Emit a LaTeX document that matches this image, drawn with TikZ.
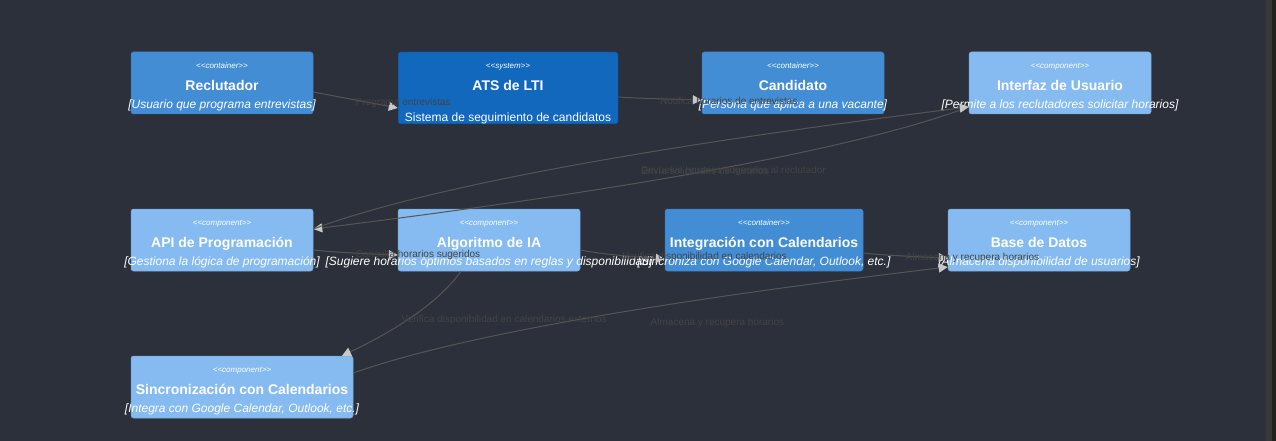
\documentclass[tikz,border=0pt]{standalone}
\usepackage{fontspec}
\setmainfont{Liberation Sans}[Ligatures=TeXOff]
\usetikzlibrary{arrows.meta,calc}

\definecolor{bg}{HTML}{2B303B}
\definecolor{sysfill}{HTML}{1168BD}
\definecolor{sysline}{HTML}{0B4884}
\definecolor{contfill}{HTML}{438DD5}
\definecolor{contline}{HTML}{3C7FC0}
\definecolor{compfill}{HTML}{85BBF0}
\definecolor{compline}{HTML}{78A8D8}
\definecolor{relline}{HTML}{555555}
\definecolor{reltext}{HTML}{444444}
\definecolor{tipgray}{HTML}{C8C8C8}
\definecolor{scrolla}{HTML}{383838}
\definecolor{scrollb}{HTML}{222222}

\begin{document}
\begin{tikzpicture}[x=1pt,y=-1pt,
	c4box/.style={rectangle, rounded corners=2.5pt, line width=0.5pt, inner sep=0pt},
	sysbox/.style={c4box, fill=sysfill, draw=sysline},
	contbox/.style={c4box, fill=contfill, draw=contline},
	compbox/.style={c4box, fill=compfill, draw=compline},
	c4stereo/.style={anchor=base, inner sep=0pt, text=white, font=\fontsize{8}{8}\selectfont\itshape},
	c4title/.style={anchor=base, inner sep=0pt, text=white, font=\fontsize{14}{14}\selectfont\bfseries},
	c4descr/.style={anchor=base, inner sep=0pt, text=white, font=\fontsize{12}{12}\selectfont\itshape},
	c4rel/.style={draw=relline, line width=1pt, -{Triangle[length=9pt,width=9pt,color=tipgray]}},
	curved/.style={to path={let \p1=(\tikztostart), \p2=(\tikztotarget) in
		.. controls ({(5*\x1+\x2)/6},{(2*\y1+\y2)/3}) and ({(\x1+\x2)/2},{(\y1+2*\y2)/3}) .. (\tikztotarget) \tikztonodes}},
	c4lbl/.style={anchor=west, inner sep=0pt, yshift=-2.5pt, text=reltext, font=\fontsize{10}{10}\selectfont}]

	\path[use as bounding box] (0,0) rectangle (1276,441);
	\fill[bg] (0,0) rectangle (1266,441);
	\fill[scrolla] (1266,0) rectangle (1272,441);
	\fill[scrollb] (1272,0) rectangle (1276,441);

	\node[contbox, minimum width=182pt, minimum height=62pt] (reclutador) at (222,83) {};
	\node[c4stereo] (reclutador-s) at ([yshift=-16.5pt]reclutador.north) {<<container>>};
	\node[c4title] (reclutador-t) at ([yshift=-38.5pt]reclutador.north) {Reclutador};
	\node[c4descr] (reclutador-d) at ([yshift=-57pt]reclutador.north) {[Usuario que programa entrevistas]};

	\node[sysbox, minimum width=220pt, minimum height=72pt] (ats) at (508,88) {};
	\node[c4stereo] (ats-s) at ([yshift=-16.5pt]ats.north) {<<system>>};
	\node[c4title] (ats-t) at ([yshift=-38.5pt]ats.north) {ATS de LTI};
	\node[c4descr, font=\fontsize{12}{12}\selectfont] (ats-d) at ([yshift=-70pt]ats.north) {Sistema de seguimiento de candidatos};

	\node[contbox, minimum width=182pt, minimum height=62pt] (candidato) at (793,83) {};
	\node[c4stereo] (candidato-s) at ([yshift=-16.5pt]candidato.north) {<<container>>};
	\node[c4title] (candidato-t) at ([yshift=-38.5pt]candidato.north) {Candidato};
	\node[c4descr] (candidato-d) at ([yshift=-57pt]candidato.north) {[Persona que aplica a una vacante]};

	\node[compbox, minimum width=182pt, minimum height=62pt] (interfaz) at (1060,83) {};
	\node[c4stereo] (interfaz-s) at ([yshift=-16.5pt]interfaz.north) {<<component>>};
	\node[c4title] (interfaz-t) at ([yshift=-38.5pt]interfaz.north) {Interfaz de Usuario};
	\node[c4descr] (interfaz-d) at ([yshift=-57pt]interfaz.north) {[Permite a los reclutadores solicitar horarios]};

	\node[compbox, minimum width=182pt, minimum height=62pt] (api) at (222,240) {};
	\node[c4stereo] (api-s) at ([yshift=-16.5pt]api.north) {<<component>>};
	\node[c4title] (api-t) at ([yshift=-38.5pt]api.north) {API de Programación};
	\node[c4descr] (api-d) at ([yshift=-57pt]api.north) {[Gestiona la lógica de programación]};

	\node[compbox, minimum width=182pt, minimum height=62pt] (algoritmo) at (489,240) {};
	\node[c4stereo] (algoritmo-s) at ([yshift=-16.5pt]algoritmo.north) {<<component>>};
	\node[c4title] (algoritmo-t) at ([yshift=-38.5pt]algoritmo.north) {Algoritmo de IA};
	\node[c4descr] (algoritmo-d) at ([yshift=-57pt]algoritmo.north) {[Sugiere horarios óptimos basados en reglas y disponibilidad]};

	\node[contbox, minimum width=198pt, minimum height=62pt] (integracion) at (764,240) {};
	\node[c4stereo] (integracion-s) at ([yshift=-16.5pt]integracion.north) {<<container>>};
	\node[c4title] (integracion-t) at ([yshift=-38.5pt]integracion.north) {Integración con Calendarios};
	\node[c4descr] (integracion-d) at ([yshift=-57pt]integracion.north) {[Sincroniza con Google Calendar, Outlook, etc.]};

	\node[compbox, minimum width=182pt, minimum height=62pt] (base) at (1039,240) {};
	\node[c4stereo] (base-s) at ([yshift=-16.5pt]base.north) {<<component>>};
	\node[c4title] (base-t) at ([yshift=-38.5pt]base.north) {Base de Datos};
	\node[c4descr] (base-d) at ([yshift=-57pt]base.north) {[Almacena disponibilidad de usuarios]};

	\node[compbox, minimum width=222pt, minimum height=62pt] (sincronizacion) at (242,387) {};
	\node[c4stereo] (sincronizacion-s) at ([yshift=-16.5pt]sincronizacion.north) {<<component>>};
	\node[c4title] (sincronizacion-t) at ([yshift=-38.5pt]sincronizacion.north) {Sincronización con Calendarios};
	\node[c4descr] (sincronizacion-d) at ([yshift=-57pt]sincronizacion.north) {[Integra con Google Calendar, Outlook, etc.]};

	\coordinate (r1s) at ([yshift=-9pt]reclutador.east);
	\coordinate (r1e) at ([yshift=-20pt]ats.west);
	\coordinate (r2s) at ([yshift=-9pt]ats.east);
	\coordinate (r2e) at ([yshift=-17pt]candidato.west);
	\coordinate (r3s) at ([yshift=-24pt]interfaz.west);
	\coordinate (r3e) at ([yshift=11pt]api.east);
	\coordinate (r5s) at ([yshift=-10pt]api.east);
	\coordinate (r5e) at ([yshift=-15pt]algoritmo.west);
	\coordinate (r6s) at ([yshift=-10pt]algoritmo.east);
	\coordinate (r6e) at ([yshift=-19pt]integracion.west);
	\coordinate (r7s) at ([yshift=-13pt]integracion.east);
	\coordinate (r7e) at ([yshift=-18pt]base.west);
	\coordinate (r8s) at ([xshift=-28pt]algoritmo.south);
	\coordinate (r8e) at ([xshift=100pt]sincronizacion.north);
	\coordinate (r9s) at ([yshift=14pt]sincronizacion.east);
	\coordinate (r9e) at ([yshift=-27pt]base.west);

	\draw[c4rel] (r1s) -- (r1e);
	\draw[c4rel, curved] (r2s) to (r2e);
	\draw[c4rel, curved] (r3s) to (r3e);
	\draw[c4rel, curved] (r3e) to (r3s);
	\draw[c4rel, curved] (r5s) to (r5e);
	\draw[c4rel, curved] (r6s) to (r6e);
	\draw[c4rel, curved] (r7s) to (r7e);
	\draw[c4rel, curved] (r8s) to (r8e);
	\draw[c4rel, curved] (r9s) to (r9e);

	\node[c4lbl] (l1) at ($(r1s)!0.5!(r1e)$) {Programa entrevistas};
	\node[c4lbl] (l2) at ($(r2s)!0.5!(r2e)$) {Notifica horarios de entrevistas};
	\node[c4lbl] (l3) at ($(r3s)!0.5!(r3e)$) {Envía solicitudes de horarios};
	\node[c4lbl] (l4) at ($(r3e)!0.5!(r3s)$) {Devuelve horarios sugeridos al reclutador};
	\node[c4lbl] (l5) at ($(r5s)!0.5!(r5e)$) {Consulta horarios sugeridos};
	\node[c4lbl] (l6) at ($(r6s)!0.5!(r6e)$) {Verifica disponibilidad en calendarios};
	\node[c4lbl] (l7) at ($(r7s)!0.5!(r7e)$) {Almacena y recupera horarios};
	\node[c4lbl, yshift=-4pt] (l8) at ($(r8s)!0.5!(r8e)$) {Verifica disponibilidad en calendarios externos};
	\node[c4lbl] (l9) at ($(r9s)!0.5!(r9e)$) {Almacena y recupera horarios};

\end{tikzpicture}
\end{document}
